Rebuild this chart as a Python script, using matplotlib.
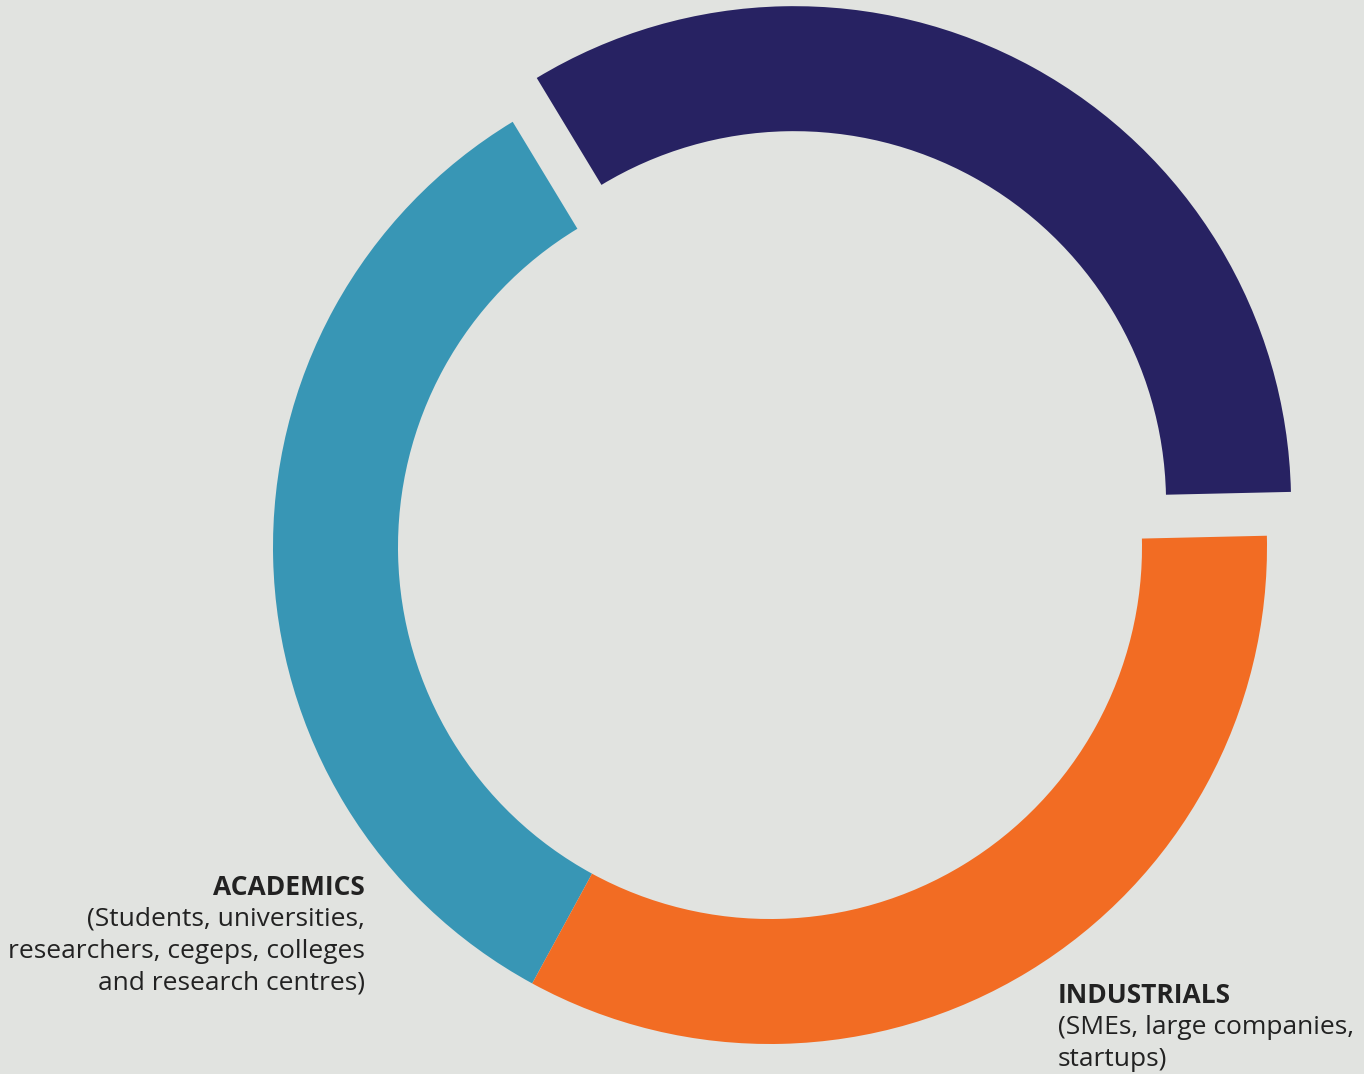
import matplotlib.pyplot as plt

# Data
labels = ["Other", "ACADEMICS", "INDUSTRIALS"]
shares = [33.3, 33.4, 33.3]
colors = ["#272262", "#3896B5", "#F26C23"]

bg = "#E1E3E0"
W, H = 1364, 1074
R = 497
# explode in pie is in data units (pixels here)
explode = [50, 0, 0]

fig = plt.figure(figsize=(W / 100, H / 100), dpi=100, facecolor=bg)
ax = fig.add_axes([0, 0, 1, 1])
ax.set_facecolor(bg)

ax.pie(shares, colors=colors, explode=explode, startangle=1.3,
       counterclock=True, center=(770, H - 547), radius=R,
       wedgeprops=dict(width=125, linewidth=0), frame=True)
ax.set_xlim(0, W)
ax.set_ylim(0, H)
ax.set_aspect("equal")
ax.axis("off")

fs = 19
tc = "#222222"
fam = ["Open Sans", "DejaVu Sans"]

# Academics label
ax.text(365, H - 895, "ACADEMICS", ha="right", va="baseline",
        fontsize=fs, fontweight="bold", color=tc, family=fam)
acad_lines = ["(Students, universities,", "researchers, cegeps, colleges",
              "and research centres)"]
for i, line in enumerate(acad_lines):
    ax.text(365, H - (926 + 32 * i), line, ha="right", va="baseline",
            fontsize=fs, color=tc, family=fam)

# Industrials label
ax.text(1058, H - 1003, "INDUSTRIALS", ha="left", va="baseline",
        fontsize=fs, fontweight="bold", color=tc, family=fam)
ind_lines = ["(SMEs, large companies,", "startups)"]
for i, line in enumerate(ind_lines):
    ax.text(1058, H - (1034 + 32 * i), line, ha="left", va="baseline",
            fontsize=fs, color=tc, family=fam)

fig.savefig("out.png", dpi=100, facecolor=bg)
